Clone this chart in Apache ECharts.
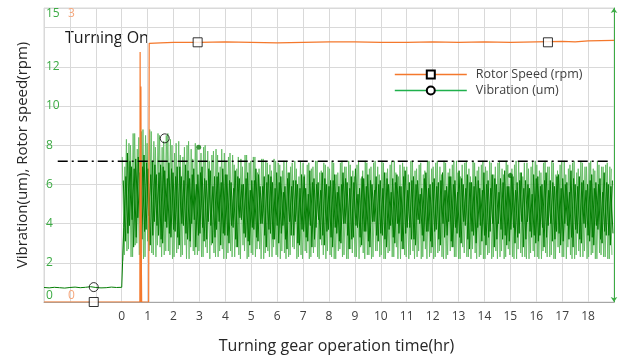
<!DOCTYPE html>
<html>
<head>
<meta charset="utf-8">
<script src="https://cdn.jsdelivr.net/npm/echarts@6/dist/echarts.min.js"></script>
<style>
  html, body { margin: 0; padding: 0; background: #fff; }
  #chart { width: 618px; height: 359px; }
</style>
</head>
<body>
<div id="chart"></div>
<script>
// vibration before turning gear start, one point every 0.2 hr from -3 hr
const baseStart = -3.0;
const baseStep = 0.2;
const vibBase = [0.74, 0.72, 0.75, 0.73, 0.71, 0.74, 0.76, 0.73, 0.75, 0.78, 0.74, 0.72, 0.73, 0.76, 0.74, 0.75];

// oscillating vibration after start, each trace one point every 0.08 hr
const oscStep = 0.08;
const lightStart = 0.04;
const vibLight = [
  2.1, 6.9, 2.6, 8.1, 2.3, 8.6, 2.9, 7.8, 2.4, 8.7, 2.2, 8.5, 3.1, 8.8, 2.5, 8.2, 2.3, 8.6, 2.8, 7.9, 2.4, 8.5, 2.6, 8.3, 2.2,
  7.6, 2.5, 8.2, 2.3, 7.4, 2.9, 8.0, 2.2, 7.8, 2.6, 8.1, 2.4, 7.2, 2.3, 7.9, 2.8, 7.7, 2.2, 7.5, 2.5, 7.8, 2.3, 6.9, 2.7, 7.6,
  2.2, 7.4, 2.6, 7.5, 2.3, 6.8, 2.4, 7.3, 2.9, 7.5, 2.2, 7.1, 2.5, 7.4, 2.3, 6.6, 2.7, 7.3, 2.2, 7.2, 2.6, 7.0, 2.3, 7.3, 2.4,
  7.1, 2.2, 6.7, 2.5, 7.2, 2.3, 6.9, 2.8, 7.2, 2.2, 6.4, 2.4, 7.1, 2.6, 7.0, 2.2, 6.8, 2.5, 7.2, 2.3, 6.6, 2.9, 7.1, 2.2, 6.9,
  2.4, 7.2, 2.2, 6.5, 2.6, 7.1, 2.3, 6.9, 2.2, 7.2, 2.7, 6.7, 2.3, 7.0, 2.2, 6.3, 2.5, 7.2, 2.4, 6.8, 2.2, 7.1, 2.6, 6.9, 2.3,
  7.2, 2.2, 6.6, 2.5, 7.0, 2.3, 7.2, 2.8, 6.4, 2.2, 7.1, 2.4, 6.9, 2.2, 7.2, 2.6, 6.7, 2.3, 7.0, 2.2, 6.5, 2.7, 7.2, 2.3, 6.8,
  2.2, 7.1, 2.5, 6.9, 2.3, 7.2, 2.2, 6.6, 2.6, 7.0, 2.3, 7.2, 2.2, 6.4, 2.8, 7.1, 2.3, 6.8, 2.2, 7.2, 2.5, 6.7, 2.3, 7.0, 2.2,
  6.9, 2.4, 7.2, 2.2, 6.5, 2.6, 7.1, 2.3, 6.8, 2.2, 7.2, 2.7, 6.6, 2.3, 7.0, 2.2, 7.2, 2.5, 6.4, 2.3, 7.1, 2.2, 6.9, 2.6, 7.2,
  2.3, 6.7, 2.2, 7.1, 2.5, 6.9, 2.3, 7.2, 2.2, 6.5, 2.8, 7.0, 2.3, 7.2, 2.2, 6.8, 2.4, 7.1, 2.2, 6.6, 2.6, 7.2, 2.3, 6.9, 2.2,
  7.1, 2.4, 6.8, 2.2, 7.2, 2.5, 6.9, 2.3, 7.0, 2.2, 6.9, 2.4
];
const light2Start = 0.02;
const vibLight2 = [
  7.4, 2.4, 8.3, 2.7, 8.0, 2.3, 8.6, 3.0, 8.4, 2.5, 8.8, 2.3, 8.1, 2.6, 8.7, 2.4, 7.9, 2.9, 8.5, 2.3, 8.2, 2.6, 8.6, 2.4, 8.0,
  2.3, 8.1, 2.7, 7.5, 2.4, 7.9, 2.2, 8.2, 2.8, 7.3, 2.4, 7.8, 2.6, 7.6, 2.3, 8.0, 2.5, 7.2, 2.9, 7.7, 2.3, 7.5, 2.6, 7.8, 2.2,
  7.2, 2.5, 7.6, 2.3, 7.0, 2.8, 7.4, 2.2, 6.9, 2.6, 7.5, 2.3, 7.2, 2.4, 7.4, 2.7, 6.8, 2.2, 7.3, 2.5, 7.1, 2.3, 6.7, 2.8, 7.2,
  2.3, 7.0, 2.6, 7.2, 2.2, 6.6, 2.4, 7.1, 2.7, 6.8, 2.3, 7.2, 2.2, 6.5, 2.5, 7.1, 2.3, 6.9, 2.8, 7.2, 2.2, 6.7, 2.4, 7.0, 2.6,
  6.8, 2.3, 7.1, 2.2, 6.6, 2.7, 7.2, 2.4, 6.9, 2.2, 7.0, 2.5, 6.4, 2.3, 7.2, 2.8, 6.7, 2.2, 7.1, 2.4, 6.9, 2.3, 7.2, 2.6, 6.5,
  2.4, 7.1, 2.2, 6.8, 2.6, 7.2, 2.3, 6.6, 2.2, 7.0, 2.7, 6.9, 2.3, 6.5, 2.4, 7.2, 2.2, 6.8, 2.6, 7.1, 2.3, 6.7, 2.2, 7.2, 2.5,
  6.9, 2.3, 7.2, 2.6, 6.5, 2.2, 7.1, 2.4, 6.8, 2.8, 7.2, 2.3, 6.6, 2.2, 7.0, 2.5, 7.2, 2.3, 6.4, 2.7, 7.1, 2.2, 6.9, 2.4, 7.2,
  2.2, 6.7, 2.5, 7.1, 2.3, 6.9, 2.2, 7.2, 2.6, 6.5, 2.3, 7.0, 2.4, 6.8, 2.2, 7.2, 2.7, 6.6, 2.3, 7.1, 2.2, 6.8, 2.5, 7.2, 2.3,
  7.0, 2.2, 6.6, 2.6, 7.2, 2.3, 6.9, 2.4, 7.1, 2.2, 6.7, 2.5, 7.2, 2.3, 6.5, 2.8, 7.0, 2.2, 7.2, 2.4, 6.8, 2.3, 7.1, 2.6, 6.9,
  2.3, 7.2, 2.5, 6.7, 2.2, 7.0, 2.4, 6.9, 2.3, 7.1, 2.2, 6.8
];
const darkStart = 0.08;
const vibDark = [
  3.8, 6.4, 3.5, 7.2, 4.2, 6.8, 3.3, 7.4, 4.0, 6.9, 3.6, 7.1, 4.4, 6.5, 3.4, 7.0, 3.9, 6.6, 3.2, 6.9, 4.1, 6.3, 3.5, 6.8, 3.7,
  6.4, 3.3, 6.9, 4.0, 6.2, 3.5, 6.7, 3.1, 6.5, 4.2, 6.0, 3.4, 6.6, 3.8, 6.3, 3.2, 6.8, 3.9, 5.9, 3.3, 6.4, 4.1, 6.1, 3.5, 6.5,
  3.4, 6.2, 3.9, 5.8, 3.2, 6.4, 4.3, 6.0, 3.5, 6.3, 3.1, 5.7, 3.8, 6.2, 3.3, 6.5, 4.0, 5.9, 3.4, 6.1, 3.7, 6.4, 3.2, 5.8, 3.9,
  6.1, 3.5, 5.6, 3.2, 6.3, 4.1, 5.9, 3.4, 6.2, 3.0, 5.8, 3.7, 6.4, 3.3, 5.5, 3.9, 6.1, 3.2, 6.0, 4.2, 5.7, 3.4, 6.3, 3.6, 5.9,
  3.3, 6.2, 3.8, 5.6, 3.1, 6.0, 4.0, 6.3, 3.4, 5.8, 3.2, 6.1, 3.9, 5.5, 3.3, 6.4, 3.6, 5.9, 3.1, 6.2, 4.1, 5.7, 3.4, 6.0, 3.5,
  5.8, 3.2, 6.3, 3.7, 5.6, 3.3, 6.1, 4.0, 5.9, 3.1, 6.4, 3.5, 5.7, 3.8, 6.2, 3.2, 6.0, 4.2, 5.5, 3.4, 6.3, 3.6, 5.8, 3.1, 6.1,
  3.6, 5.9, 3.2, 6.2, 4.0, 5.7, 3.4, 6.4, 3.1, 6.0, 3.8, 5.6, 3.3, 6.3, 4.1, 5.8, 3.2, 6.1, 3.6, 5.9, 3.0, 6.2, 3.9, 5.7, 3.4,
  6.0, 3.3, 5.8, 4.0, 6.3, 3.2, 5.6, 3.7, 6.1, 3.4, 5.9, 3.1, 6.4, 3.8, 5.7, 3.3, 6.2, 4.1, 5.8, 3.2, 6.0, 3.6, 5.5, 3.4, 6.3,
  3.1, 5.9, 3.8, 6.2, 3.3, 5.7, 4.0, 6.1, 3.2, 6.4, 3.5, 5.8, 3.1, 6.0, 3.9, 5.6, 3.3, 6.3, 3.7, 5.9, 3.2, 6.1, 4.0, 5.7, 3.4,
  6.2, 3.3, 5.8, 3.9, 6.0, 3.2, 5.6, 3.6, 6.1, 3.4, 5.9, 3.5
];
const dark2Start = 0.06;
const vibDark2 = [
  6.2, 3.1, 7.6, 3.9, 6.9, 2.8, 7.3, 4.3, 6.6, 3.2, 7.5, 3.7, 6.8, 2.9, 7.2, 4.1, 6.5, 3.4, 7.0, 3.0, 6.7, 3.8, 7.1, 3.3, 6.6,
  3.6, 6.9, 2.9, 6.4, 3.9, 7.0, 3.2, 6.3, 4.0, 6.8, 2.8, 6.5, 3.5, 6.9, 3.1, 6.2, 4.1, 6.7, 3.0, 6.4, 3.7, 6.6, 2.9, 6.8, 3.4,
  6.5, 3.0, 6.1, 3.8, 6.7, 2.8, 6.3, 4.2, 6.0, 3.3, 6.6, 2.9, 6.2, 3.7, 6.8, 3.1, 5.9, 4.0, 6.4, 2.8, 6.5, 3.5, 6.1, 3.2, 6.6,
  3.0, 6.4, 3.9, 5.9, 2.7, 6.6, 3.4, 6.2, 4.1, 6.0, 2.9, 6.5, 3.6, 5.8, 3.1, 6.7, 2.8, 6.3, 3.8, 6.1, 3.2, 6.6, 2.9, 6.0, 3.7,
  6.2, 2.8, 6.5, 3.5, 5.9, 3.0, 6.6, 4.0, 6.1, 2.7, 6.4, 3.3, 6.8, 3.8, 5.8, 2.9, 6.3, 3.6, 6.5, 2.8, 6.0, 4.1, 6.4, 3.1, 6.2,
  3.4, 6.6, 2.8, 6.0, 3.9, 6.3, 3.0, 6.5, 3.5, 5.9, 2.7, 6.7, 3.8, 6.1, 3.2, 6.4, 2.9, 6.2, 4.0, 5.8, 3.1, 6.6, 3.6, 6.0, 2.8,
  6.3, 3.7, 6.1, 2.9, 6.6, 3.3, 5.9, 4.1, 6.4, 2.8, 6.2, 3.5, 6.7, 3.0, 6.0, 3.9, 6.5, 2.7, 6.1, 3.4, 6.4, 3.8, 5.8, 3.1, 6.6,
  2.9, 6.2, 3.6, 6.5, 2.8, 6.0, 4.0, 6.3, 3.2, 6.7, 2.9, 5.9, 3.7, 6.4, 3.0, 6.1, 3.5, 6.6, 2.8, 6.2, 4.1, 5.8, 3.3, 6.5, 3.0,
  6.4, 3.4, 6.0, 2.8, 6.6, 3.9, 6.2, 3.1, 5.9, 3.6, 6.5, 2.9, 6.3, 4.0, 6.1, 3.2, 6.7, 2.8, 6.0, 3.5, 6.4, 3.0, 6.2, 3.8, 6.0,
  3.1, 6.5, 2.9, 6.1, 3.7, 6.3, 3.0, 6.6, 3.4, 6.0, 2.9, 6.2
];

// rotor speed (rpm)
const rotorTime  = [-3, 0.70, 0.71, 0.73, 0.74, 0.76, 0.77, 1.04, 1.06, 1.5, 2, 3, 4, 5, 6, 7, 8, 9, 10, 11, 12, 13, 14, 15, 16, 17, 17.5, 18, 19];
const rotorSpeed = [0, 0, 2.55, 0, 2.2, 0.3, 0, 0, 2.64, 2.645, 2.65, 2.65, 2.655, 2.65, 2.645, 2.65, 2.655, 2.655, 2.65, 2.65, 2.655, 2.65, 2.655, 2.65, 2.655, 2.66, 2.655, 2.665, 2.67];

// marker points
const speedMarks = [[-1.08, 0], [2.93, 2.65], [16.45, 2.65]];
const vibMarks = [[-1.08, 0.76], [1.66, 8.35]];
const vibDots = [[2.97, 7.9], [15.0, 6.45]];

// alarm level line
const alarmLevel = 7.18;
const alarmFrom = -2.47;
const alarmTo = 18.9;

const xLabels = [0, 1, 2, 3, 4, 5, 6, 7, 8, 9, 10, 11, 12, 13, 14, 15, 16, 17, 18];

const font = 'Open Sans';
const green = '#3cab44';
const orange = '#f4782c';

const toPairs = (vals, start, step) => vals.map((v, i) => [start + i * step, v]);
const baseData = toPairs(vibBase, baseStart, baseStep);
const rotorData = rotorTime.map((t, i) => [t, rotorSpeed[i]]);

function vibLine(name, data, color, width, opacity, z) {
  return {
    name: name,
    type: 'line',
    yAxisIndex: 0,
    data: data,
    symbol: 'none',
    lineStyle: { color: color, width: width, opacity: opacity },
    z: z
  };
}

const chart = echarts.init(document.getElementById('chart'), null, { renderer: 'canvas' });

chart.setOption({
  animation: false,
  textStyle: { fontFamily: font },
  grid: {
    left: 44,
    right: 4,
    top: 8,
    bottom: 56,
    show: true,
    borderColor: '#d9d9d9',
    borderWidth: 1
  },
  legend: {
    orient: 'vertical',
    left: 389,
    top: 63,
    itemWidth: 72,
    itemHeight: 10,
    itemGap: 3,
    textStyle: { fontSize: 12.5, color: '#404040', fontFamily: font, padding: [0, 0, 0, 4] },
    data: [
      { name: 'Rotor Speed (rpm)', lineStyle: { color: orange, width: 1.6, opacity: 1 } },
      { name: 'Vibration (um)', lineStyle: { color: '#1fb04c', width: 1.6, opacity: 1 } }
    ]
  },
  graphic: [{
    type: 'text',
    left: 65,
    top: 30,
    style: { text: 'Turning On', fontSize: 16, fontFamily: font, fill: '#1a1a1a' }
  }],
  xAxis: {
    type: 'value',
    min: -3,
    max: 19,
    interval: 1,
    name: 'Turning gear operation time(hr)',
    nameLocation: 'middle',
    nameGap: 36,
    nameTextStyle: { fontSize: 16, color: '#262626', padding: [0, 0, 0, 15] },
    axisLine: { lineStyle: { color: '#a6a6a6' } },
    axisTick: { show: false },
    axisLabel: {
      color: '#404040',
      fontSize: 12,
      margin: 9,
      showMaxLabel: false,
      formatter: v => (xLabels.indexOf(v) >= 0 ? String(v) : '')
    },
    splitLine: { lineStyle: { color: '#d9d9d9' } }
  },
  yAxis: [{
    type: 'value',
    min: 0,
    max: 15,
    interval: 2,
    position: 'left',
    name: 'Vibration(um), Rotor speed(rpm)',
    nameLocation: 'middle',
    nameGap: 14,
    nameTextStyle: { fontSize: 15, color: '#262626' },
    axisLine: { show: false },
    axisTick: { show: false },
    axisLabel: {
      inside: true,
      margin: 2,
      color: green,
      fontSize: 12,
      verticalAlignMinLabel: 'bottom',
      verticalAlignMaxLabel: 'top',
      formatter: v => (v === 14 ? '' : String(v))
    },
    splitLine: { lineStyle: { color: '#d9d9d9' } }
  }, {
    type: 'value',
    min: 0,
    max: 3,
    interval: 3,
    position: 'left',
    offset: -22,
    axisLine: { show: false },
    axisTick: { show: false },
    axisLabel: {
      inside: true,
      margin: 2,
      color: '#f6a77c',
      fontSize: 12,
      verticalAlignMinLabel: 'bottom',
      verticalAlignMaxLabel: 'top'
    },
    splitLine: { show: false }
  }, {
    type: 'value',
    min: 0,
    max: 15,
    position: 'right',
    axisLine: {
      show: true,
      lineStyle: { color: green },
      symbol: ['arrow', 'arrow'],
      symbolSize: [5, 5]
    },
    axisTick: { show: false },
    axisLabel: { show: false },
    splitLine: { show: false }
  }],
  series: [
    {
      name: 'Vibration (um)',
      type: 'line',
      yAxisIndex: 0,
      data: toPairs(vibLight, lightStart, oscStep),
      symbol: 'circle',
      showSymbol: false,
      itemStyle: { color: '#fff', borderColor: '#000', borderWidth: 1 },
      lineStyle: { color: '#5cb85c', width: 1, opacity: 0.85 },
      z: 2
    },
    vibLine('vibration b', toPairs(vibLight2, light2Start, oscStep), '#5cb85c', 1, 0.85, 2),
    vibLine('vibration core', baseData.concat(toPairs(vibDark, darkStart, oscStep)), '#037d03', 1, 1, 3),
    vibLine('vibration core b', toPairs(vibDark2, dark2Start, oscStep), '#037d03', 1, 1, 3),
    {
      name: 'Rotor Speed (rpm)',
      type: 'line',
      yAxisIndex: 1,
      data: rotorData,
      symbol: 'rect',
      showSymbol: false,
      itemStyle: { color: '#fff', borderColor: '#000', borderWidth: 1 },
      lineStyle: { color: orange, width: 1.2 },
      z: 4
    },
    {
      name: 'alarm',
      type: 'line',
      yAxisIndex: 0,
      data: [[alarmFrom, alarmLevel], [alarmTo, alarmLevel]],
      symbol: 'none',
      lineStyle: { color: '#000', width: 1.5, type: [10, 4, 2, 4] },
      z: 5
    },
    {
      name: 'speed marks',
      type: 'scatter',
      yAxisIndex: 1,
      data: speedMarks,
      symbol: 'rect',
      symbolSize: 9,
      clip: false,
      itemStyle: { color: '#fff', borderColor: '#000', borderWidth: 1 },
      z: 6
    },
    {
      name: 'vib marks',
      type: 'scatter',
      yAxisIndex: 0,
      data: vibMarks,
      symbol: 'circle',
      symbolSize: 9,
      clip: false,
      itemStyle: { color: 'rgba(255,255,255,0)', borderColor: '#000', borderWidth: 1 },
      z: 6
    },
    {
      name: 'vib dots',
      type: 'scatter',
      yAxisIndex: 0,
      data: vibDots,
      symbol: 'circle',
      symbolSize: 5,
      itemStyle: { color: '#0a7a0a' },
      z: 6
    }
  ]
});
</script>
</body>
</html>
